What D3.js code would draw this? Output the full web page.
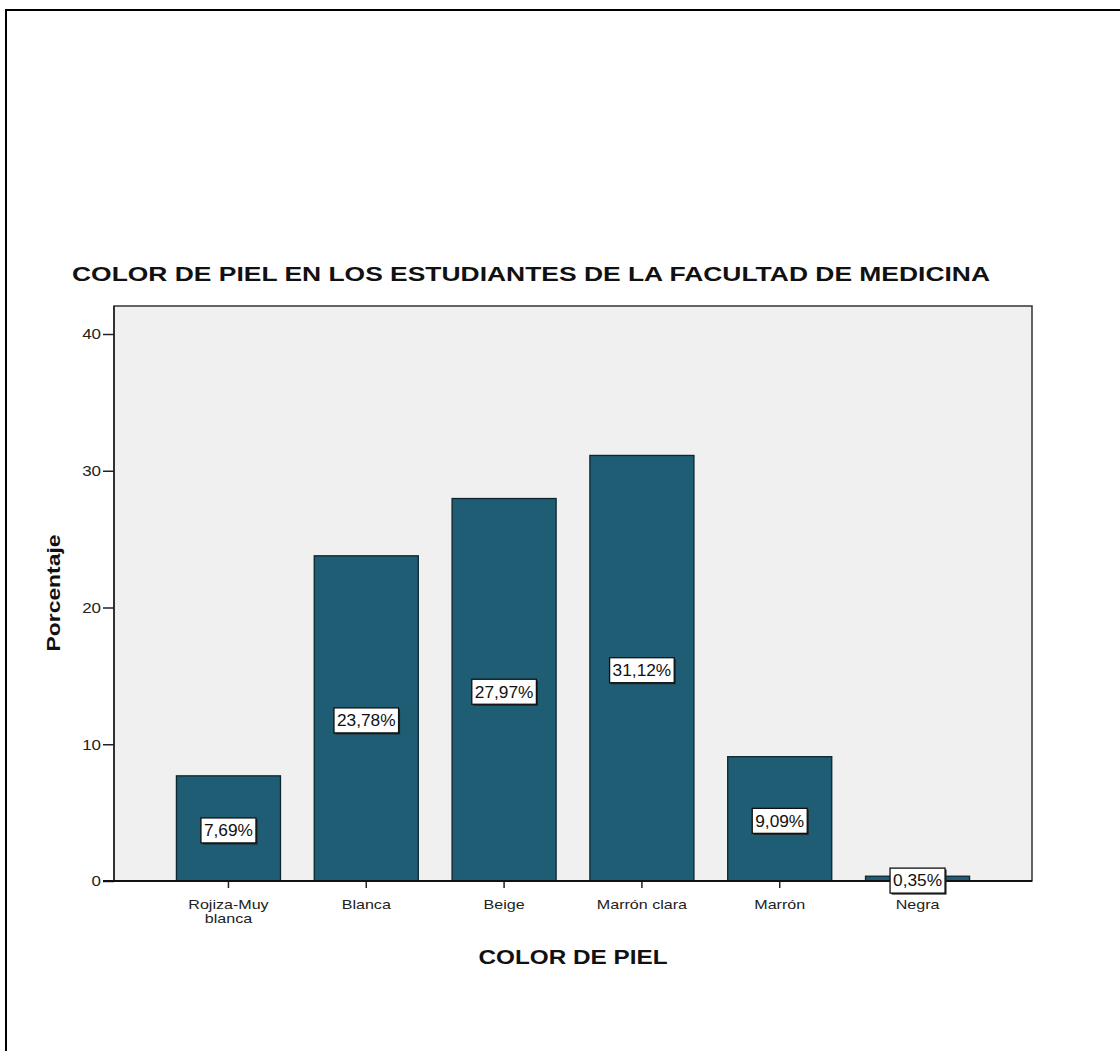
<!DOCTYPE html>
<html>
<head>
<meta charset="utf-8">
<script src="https://cdn.jsdelivr.net/npm/d3@7"></script>
<style>
  html, body { margin: 0; padding: 0; background: #fff; }
  svg { display: block; }
  text { font-family: "Liberation Sans", Arial, sans-serif; }
</style>
</head>
<body>
<svg id="chart" width="1120" height="1051"></svg>
<script>
// Skin colour distribution among medical students (percent)
const categories = ["Rojiza-Muy blanca", "Blanca", "Beige", "Marrón clara", "Marrón", "Negra"];
const tickLines = [["Rojiza-Muy", "blanca"], ["Blanca"], ["Beige"], ["Marrón clara"], ["Marrón"], ["Negra"]];
const percentages = [7.69, 23.78, 27.97, 31.12, 9.09, 0.35];
const valueLabels = ["7,69%", "23,78%", "27,97%", "31,12%", "9,09%", "0,35%"];
const yTicks = [0, 10, 20, 30, 40];

const svg = d3.select("#chart");

// widen a text horizontally by a factor (the chart uses a broad sans face)
function widen(sel, factor) {
  sel.each(function () {
    const w = this.getComputedTextLength();
    d3.select(this).attr("textLength", w * factor).attr("lengthAdjust", "spacingAndGlyphs");
  });
}

// outer frame (top and left edges)
svg.append("line").attr("x1", 6).attr("y1", 10).attr("x2", 1120).attr("y2", 10)
  .attr("stroke", "#000").attr("stroke-width", 2);
svg.append("line").attr("x1", 6).attr("y1", 9).attr("x2", 6).attr("y2", 1051)
  .attr("stroke", "#000").attr("stroke-width", 2);

const plot = { left: 114, right: 1032, top: 306, bottom: 881 };

const x = d3.scaleBand()
  .domain(categories)
  .range([plot.left, plot.right])
  .paddingInner(0.245)
  .paddingOuter(0.453);

const y = d3.scaleLinear()
  .domain([0, 40])
  .range([plot.bottom, 334]);

// plot background
svg.append("rect")
  .attr("x", plot.left).attr("y", plot.top)
  .attr("width", plot.right - plot.left).attr("height", plot.bottom - plot.top)
  .attr("fill", "#f0f0f0").attr("stroke", "#333").attr("stroke-width", 1.5);

// bars
svg.append("g").selectAll("rect")
  .data(percentages)
  .join("rect")
  .attr("x", (d, i) => x(categories[i]))
  .attr("y", d => y(d))
  .attr("width", x.bandwidth())
  .attr("height", d => y(0) - y(d))
  .attr("fill", "#1e5d73")
  .attr("stroke", "#0d2630")
  .attr("stroke-width", 1.3);

// y axis
const yAxis = d3.axisLeft(y).tickValues(yTicks).tickSize(11).tickPadding(2);
const gy = svg.append("g").attr("transform", `translate(${plot.left},0)`).call(yAxis);
gy.select(".domain").remove();
gy.selectAll(".tick line").attr("stroke", "#222").attr("stroke-width", 1.5);
gy.selectAll(".tick text")
  .attr("font-size", 15).attr("fill", "#222")
  .style("font-family", "'Liberation Sans', Arial, sans-serif")
  .call(widen, 1.13);
svg.append("line").attr("x1", plot.left).attr("x2", plot.left)
  .attr("y1", plot.top).attr("y2", plot.bottom)
  .attr("stroke", "#222").attr("stroke-width", 1.5);

// x axis
const xAxis = d3.axisBottom(x).tickSize(7).tickFormat("");
const gx = svg.append("g").attr("transform", `translate(0,${plot.bottom})`).call(xAxis);
gx.select(".domain").remove();
gx.selectAll(".tick line").attr("stroke", "#222").attr("stroke-width", 1.5);
svg.append("line").attr("x1", plot.left - 11).attr("x2", plot.right)
  .attr("y1", plot.bottom).attr("y2", plot.bottom)
  .attr("stroke", "#111").attr("stroke-width", 2);

// category labels (may wrap to two lines)
const xl = svg.append("g");
tickLines.forEach((lines, i) => {
  const cx = x(categories[i]) + x.bandwidth() / 2;
  lines.forEach((ln, j) => {
    xl.append("text")
      .attr("x", cx).attr("y", 909 + j * 14)
      .attr("text-anchor", "middle").attr("font-size", 13.5).attr("fill", "#222")
      .text(ln)
      .call(widen, 1.19);
  });
});

// value labels in boxes at bar mid-height
const lab = svg.append("g").selectAll("g")
  .data(percentages)
  .join("g")
  .attr("transform", (d, i) => `translate(${x(categories[i]) + x.bandwidth() / 2},${y(d / 2) + 2})`);
lab.each(function (d, i) {
  const g = d3.select(this);
  const txt = g.append("text")
    .attr("text-anchor", "middle").attr("dy", "0.36em")
    .attr("font-size", 16).attr("fill", "#111")
    .text(valueLabels[i])
    .call(widen, 1.08);
  const w = +txt.attr("textLength") + 6;
  const h = 25;
  g.insert("rect", "text")
    .attr("x", -w / 2 + 1.5).attr("y", -h / 2 + 1.5)
    .attr("width", w).attr("height", h)
    .attr("fill", "#222");
  g.insert("rect", "text")
    .attr("x", -w / 2).attr("y", -h / 2)
    .attr("width", w).attr("height", h)
    .attr("fill", "#fff").attr("stroke", "#111").attr("stroke-width", 1.3);
});

// titles
svg.append("text")
  .attr("x", 531).attr("y", 281)
  .attr("text-anchor", "middle").attr("font-size", 21).attr("font-weight", "bold")
  .attr("fill", "#111")
  .attr("textLength", 918).attr("lengthAdjust", "spacingAndGlyphs")
  .text("COLOR DE PIEL EN LOS ESTUDIANTES DE LA FACULTAD DE MEDICINA");

svg.append("text")
  .attr("x", 573).attr("y", 964)
  .attr("text-anchor", "middle").attr("font-size", 20).attr("font-weight", "bold")
  .attr("fill", "#111")
  .attr("textLength", 189).attr("lengthAdjust", "spacingAndGlyphs")
  .text("COLOR DE PIEL");

svg.append("text")
  .attr("transform", "translate(60,593) rotate(-90)")
  .attr("text-anchor", "middle").attr("font-size", 19).attr("font-weight", "bold")
  .attr("fill", "#111")
  .attr("textLength", 117).attr("lengthAdjust", "spacingAndGlyphs")
  .text("Porcentaje");
</script>
</body>
</html>
